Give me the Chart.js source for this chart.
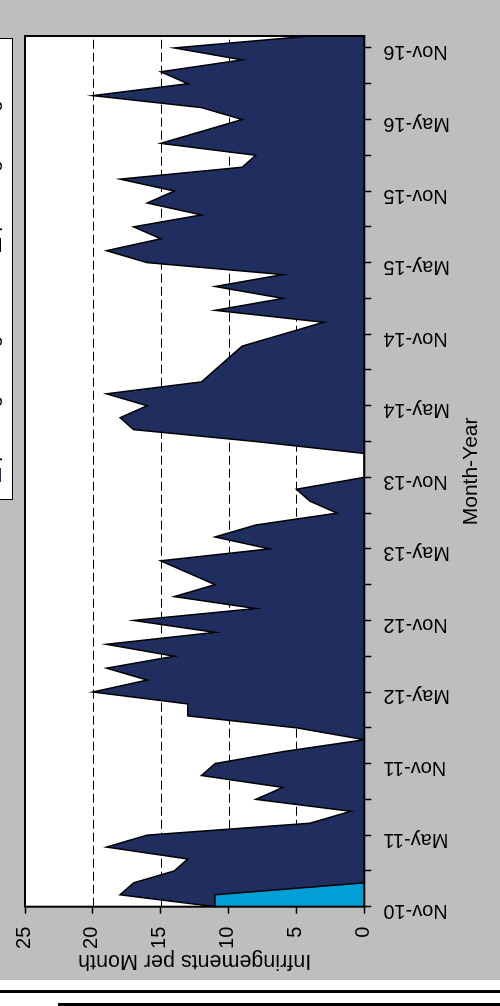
<!DOCTYPE html>
<html>
<head>
<meta charset="utf-8">
<script src="https://cdn.jsdelivr.net/npm/chart.js@4.4.1/dist/chart.umd.min.js"></script>
<style>
html,body{margin:0;padding:0;background:#fff;overflow:hidden;width:500px;height:1006px;}
#wrap{position:absolute;left:0;top:0;width:500px;height:1006px;overflow:hidden;background:#fff;}
#page{position:absolute;left:0;top:0;width:1006px;height:500px;transform-origin:0 0;transform:translate(0px,1006px) rotate(-90deg);background:#fff;overflow:hidden;}
#chartBox{position:absolute;left:26px;top:0;width:980px;height:500px;background:#bebebe;}
#rule1{position:absolute;left:13px;top:0;width:3px;height:500px;background:#000;}
#rule2{position:absolute;left:0;top:58px;width:3px;height:442px;background:#000;}
#legend{position:absolute;left:506px;top:-40px;width:462px;height:52.7px;box-sizing:border-box;border:1.5px solid #000;background:#fff;font-family:"Liberation Sans",Arial,sans-serif;font-size:20px;color:#000;}
.sw{position:absolute;width:14px;height:14px;box-sizing:border-box;top:26.2px;}
.lt{position:absolute;white-space:nowrap;line-height:20px;top:20.4px;}
</style>
</head>
<body>
<div id="wrap">
  <div id="page">
    <div id="rule1"></div>
    <div id="rule2"></div>
    <div id="chartBox"><canvas id="c" width="980" height="500"></canvas></div>
    <div id="legend">
      <div class="sw" style="left:16.5px;background:#1f2d5f;"></div>
      <div class="lt" style="left:37.5px;">parking infringements</div>
      <div class="sw" style="left:246.5px;background:#00a0d6;border:1.5px solid #000;"></div>
      <div class="lt" style="left:267.5px;">pending infringements</div>
    </div>
  </div>
</div>
<script>
// ---- data ----
const months = [
  "Nov-10","Dec-10",
  "Jan-11","Feb-11","Mar-11","Apr-11","May-11","Jun-11","Jul-11","Aug-11","Sep-11","Oct-11","Nov-11","Dec-11",
  "Jan-12","Feb-12","Mar-12","Apr-12","May-12","Jun-12","Jul-12","Aug-12","Sep-12","Oct-12","Nov-12","Dec-12",
  "Jan-13","Feb-13","Mar-13","Apr-13","May-13","Jun-13","Jul-13","Aug-13","Sep-13","Oct-13","Nov-13","Dec-13",
  "Jan-14","Feb-14","Mar-14","Apr-14","May-14","Jun-14","Jul-14","Aug-14","Sep-14","Oct-14","Nov-14","Dec-14",
  "Jan-15","Feb-15","Mar-15","Apr-15","May-15","Jun-15","Jul-15","Aug-15","Sep-15","Oct-15","Nov-15","Dec-15",
  "Jan-16","Feb-16","Mar-16","Apr-16","May-16","Jun-16","Jul-16","Aug-16","Sep-16","Oct-16","Nov-16","Dec-16"
];
const totalInfringements = [
  11, 18,
  17, 14, 13, 19, 16, 4, 1, 8, 6, 12, 11, 6,
  0, 5, 13, 13, 20, 16, 19, 14, 19, 11, 17, 8,
  14, 11, 13, 15, 7, 11, 8, 2, 4, 5, 0, 0,
  0, 8, 17, 18, 16, 19, 12, 11, 10, 9, 6, 3,
  11, 6, 11, 6, 16, 19, 15, 17, 12, 16, 14, 18,
  9, 8, 15, 12, 9, 12, 20, 13, 15, 9, 14, 4
];
const earlyInfringements = [11, 11, 0];
const xTickLabels = ["Nov-10","May-11","Nov-11","May-12","Nov-12","May-13","Nov-13","May-14","Nov-14","May-15","Nov-15","May-16","Nov-16"];
const xMinorTicks = ["Nov","Feb","May","Aug"];
const yTickValues = [0, 5, 10, 15, 20, 25];
const yGridLevels = [5, 10, 15, 20];

// ---- chart ----
const FONT = '"Liberation Sans", Arial, Helvetica, sans-serif';
Chart.defaults.font.family = FONT;
Chart.defaults.color = '#000';

const framePlugin = {
  id: 'framePlugin',
  beforeDraw(chart) {
    const {ctx, chartArea: a} = chart;
    ctx.save();
    ctx.fillStyle = '#ffffff';
    ctx.fillRect(a.left, a.top, a.right - a.left, a.bottom - a.top);
    ctx.restore();
  },
  beforeDatasetsDraw(chart) {
    const {ctx, chartArea: a, scales: {y}} = chart;
    ctx.save();
    ctx.strokeStyle = '#000';
    ctx.lineWidth = 1;
    ctx.setLineDash([9, 4]);
    yGridLevels.forEach(v => {
      const py = Math.round(y.getPixelForValue(v)) + 0.5;
      ctx.beginPath();
      ctx.moveTo(a.left, py);
      ctx.lineTo(a.right, py);
      ctx.stroke();
    });
    ctx.restore();
  },
  afterDatasetsDraw(chart) {
    const {ctx, chartArea: a} = chart;
    ctx.save();
    ctx.strokeStyle = '#000';
    ctx.lineWidth = 2;
    ctx.setLineDash([]);
    ctx.strokeRect(a.left, a.top, a.right - a.left, a.bottom - a.top);
    ctx.restore();
  }
};

new Chart(document.getElementById('c'), {
  type: 'line',
  data: {
    labels: months,
    datasets: [
      {
        label: 'pending infringements',
        data: earlyInfringements,
        backgroundColor: '#00a0d6',
        borderColor: '#000',
        borderWidth: 1.5,
        fill: 'origin',
        pointRadius: 0,
        tension: 0,
        order: 0
      },
      {
        label: 'parking infringements',
        data: totalInfringements,
        backgroundColor: '#1f2d5f',
        borderColor: '#000',
        borderWidth: 1.5,
        fill: 'origin',
        pointRadius: 0,
        tension: 0,
        order: 1
      }
    ]
  },
  options: {
    responsive: false,
    animation: false,
    devicePixelRatio: 1,
    layout: {padding: {left: 0, right: 26, top: 23.3, bottom: 0}},
    plugins: {legend: {display: false}, tooltip: {enabled: false}},
    scales: {
      x: {
        type: 'category',
        offset: false,
        border: {display: false},
        grid: {
          drawOnChartArea: false,
          drawTicks: true,
          tickLength: 7,
          tickWidth: 1.5,
          color: 'rgba(0,0,0,0)',
          tickColor: c => xMinorTicks.includes(months[c.index] ? months[c.index].slice(0, 3) : '') ? '#000' : 'rgba(0,0,0,0)'
        },
        ticks: {
          autoSkip: false,
          minRotation: 90,
          maxRotation: 90,
          padding: 12,
          labelOffset: -4,
          color: '#000',
          font: {size: 20, family: FONT},
          callback: (v, i) => xTickLabels.includes(months[i]) ? months[i] : ''
        },
        title: {
          display: true,
          text: 'Month-Year',
          color: '#000',
          font: {size: 21, family: FONT},
          padding: {top: 16.6, bottom: 16.6}
        },
        afterFit: s => { s.height = 135.7; }
      },
      y: {
        type: 'linear',
        min: 0,
        max: 25,
        border: {display: false},
        afterBuildTicks: s => { s.ticks = yTickValues.map(v => ({value: v})); },
        grid: {
          drawOnChartArea: false,
          drawTicks: true,
          tickLength: 7,
          tickWidth: 1.5,
          color: 'rgba(0,0,0,0)',
          tickColor: '#000'
        },
        ticks: {
          padding: 13,
          labelOffset: -1,
          color: '#000',
          font: {size: 20, family: FONT},
          callback: v => String(v)
        },
        title: {
          display: true,
          text: 'Infringements per Month',
          color: '#000',
          font: {size: 21.5, family: FONT},
          padding: {top: 6.4, bottom: 6.4}
        },
        afterFit: s => { s.width = 73.3; }
      }
    }
  },
  plugins: [framePlugin]
});
</script>
</body>
</html>
